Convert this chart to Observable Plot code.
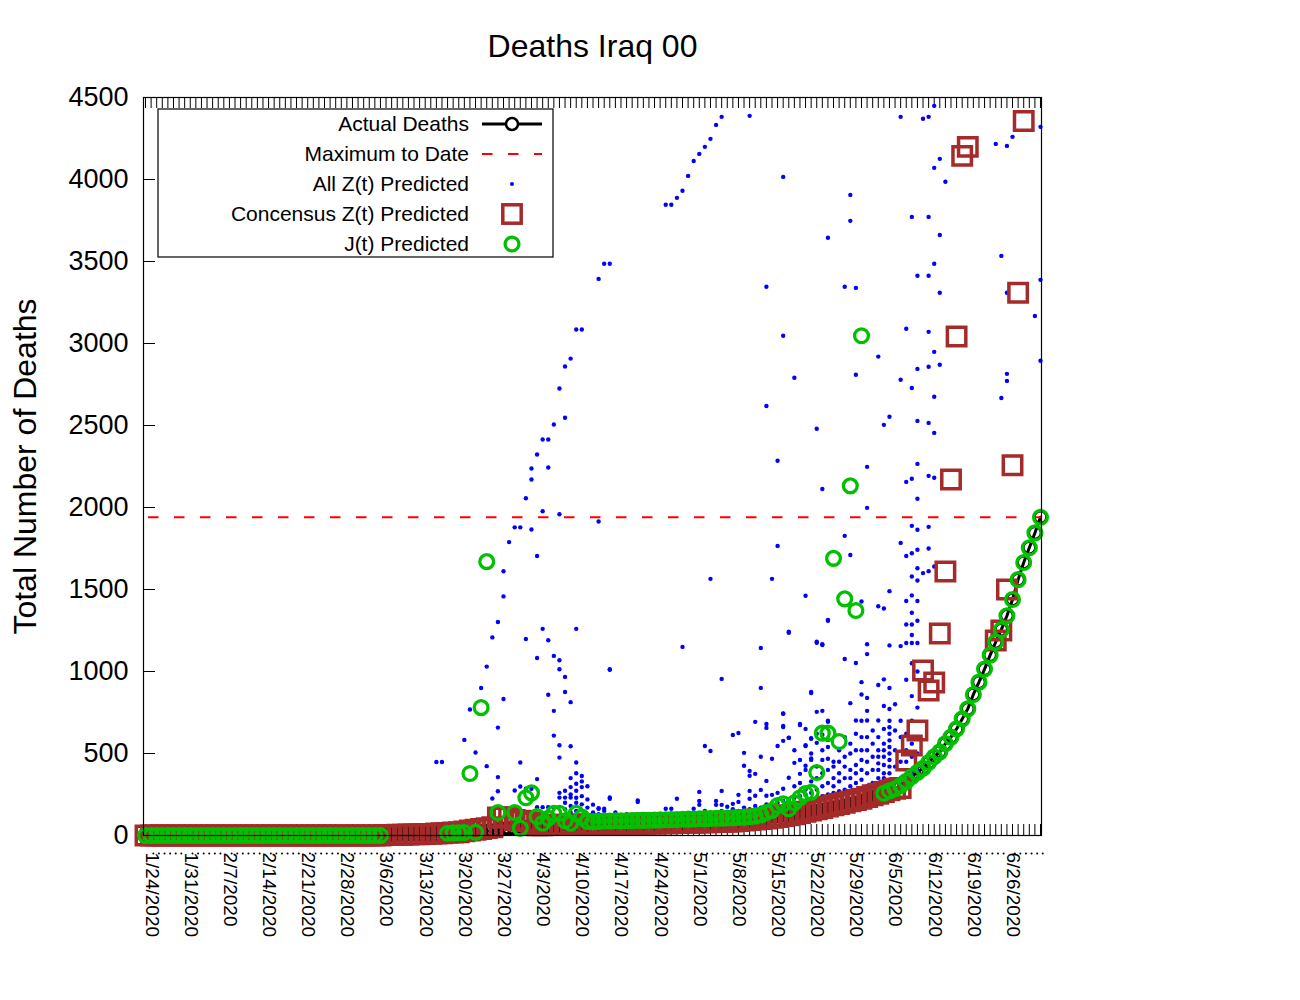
<!DOCTYPE html>
<html><head><meta charset="utf-8">
<script src="https://cdn.jsdelivr.net/npm/d3@7"></script>
<script src="https://cdn.jsdelivr.net/npm/@observablehq/plot@0.6"></script>
<style>body{margin:0;background:#fff;}</style>
</head><body><div id="chart"></div>
<script>
const FONT = "'Liberation Sans', Arial, Helvetica, sans-serif";
const chartTitle = "Deaths Iraq 00";
const yTitle = "Total Number of Deaths";

// x = day index, day 0 = 1/24/2020
const tickDays = [0,7,14,21,28,35,42,49,56,63,70,77,84,91,98,105,112,119,126,133,140,147,154];
const tickLabels = ["1/24/2020","1/31/2020","2/7/2020","2/14/2020","2/21/2020","2/28/2020","3/6/2020","3/13/2020","3/20/2020","3/27/2020","4/3/2020","4/10/2020","4/17/2020","4/24/2020","5/1/2020","5/8/2020","5/15/2020","5/22/2020","5/29/2020","6/5/2020","6/12/2020","6/19/2020","6/26/2020"];
const yTicks = [0,500,1000,1500,2000,2500,3000,3500,4000,4500];

const actualDeaths = [
0,0,0,0,0,0,0,0,0,0,
0,0,0,0,0,0,0,0,0,0,
0,0,0,0,0,0,0,0,0,0,
0,0,0,0,0,0,0,0,0,0,
1,2,2,4,6,7,8,8,9,9,
10,10,11,12,13,14,17,18,20,20,
23,27,29,36,40,42,42,46,50,52,
54,56,61,64,69,70,72,76,78,78,
79,80,81,82,82,82,83,83,85,86,
87,88,90,92,93,94,95,97,98,99,
101,102,102,103,104,104,107,109,110,112,
113,115,117,121,123,127,131,134,140,145,
150,156,163,169,175,182,190,198,210,225,
235,245,256,272,285,305,330,360,385,410,
445,480,510,560,600,650,711,772,860,935,
1015,1100,1180,1255,1340,1439,1560,1665,1755,1845,
1941];

const maxToDate = 1941;

const consensusZ = [
0,0,0,0,0,0,0,0,0,0,
0,0,0,0,0,0,0,0,0,0,
0,0,0,0,0,0,0,0,0,0,
0,0,0,0,0,0,0,0,0,0,
0,0,0,3,4,5,5,6,7,8,
9,10,12,14,16,18,20,25,30,35,
40,45,50,110,112,110,95,90,88,80,
62,63,64,64,65,65,66,66,67,67,
68,68,69,69,70,70,71,71,72,72,
73,73,74,74,75,76,76,77,78,79,
80,81,82,83,84,85,88,91,94,97,
100,104,108,113,118,124,130,137,145,153,
160,168,176,184,192,200,208,216,224,235,
245,255,265,275,285,290,457,549,640,1006,
884,933,1232,1610,2171,3043,4144,4199,null,null,
null,null,1189,1250,1500,2258,3309,4357,null,null,
null];

const jPredicted = [
0,0,0,0,0,0,0,0,0,0,
0,0,0,0,0,0,0,0,0,0,
0,0,0,0,0,0,0,0,0,0,
0,0,0,0,0,0,0,0,0,0,
0,0,0,null,null,null,null,null,null,null,
null,null,null,null,14,16,17,18,378,20,
780,1670,null,140,null,null,140,45,230,260,
115,75,105,135,135,90,75,135,112,85,
84,86,88,88,90,90,90,91,92,92,
93,94,95,96,97,98,99,100,101,102,
103,104,105,106,107,108,110,112,114,118,
125,140,152,183,193,163,200,230,256,264,
384,624,624,1690,573,1443,2132,1372,3047,null,
null,null,258,272,285,305,330,360,385,410,
445,480,510,560,600,650,711,772,860,935,
1015,1100,1180,1255,1340,1439,1560,1665,1755,1845,
1941];

// All Z(t) predictions: [day, deaths]
const allZ = [
[52,448],[53,448],[57,583],[58,768],[59,506],[60,899],[61,1030],[61,423],[62,1208],[62,226],[63,1302],[63,658],[63,356],[63,270],
[64,1458],[64,1611],[64,832],[65,1789],[66,1879],[67,1879],[66,274],[67,445],[67,299],[68,285],[68,2056],[68,1198],
[69,2171],[69,2238],[69,1866],[69,285],[70,2323],[70,1704],[70,1082],[70,344],[70,173],[71,2415],[72,2415],[71,1977],[71,1260],[71,173],
[72,2244],[72,1191],[72,858],[72,173],[73,2506],[73,1095],[73,760],[73,609],[73,173],[74,2726],[74,1959],[74,1069],[74,1014],[74,550],[74,475],[74,231],[74,260],
[75,2860],[75,2547],[75,967],[75,875],[75,231],[75,273],[75,200],[75,160],[76,2908],[76,813],[76,544],[76,231],[76,295],[76,180],[76,140],[76,250],[76,350],
[77,3085],[78,3085],[77,1260],[77,445],[77,273],[77,316],[77,200],[77,150],[77,380],[77,230],[78,363],[78,295],[78,240],[78,190],[78,330],
[79,220],[79,170],[79,300],[80,188],[80,140],[81,166],[81,130],[81,1915],[82,150],[83,1014],[83,232],[84,140],[85,120],[86,130],[88,213],
[81,3394],[82,3486],[83,3486],[93,3846],[94,3846],[95,3888],[96,3931],[97,4022],[98,4113],[99,4156],[100,4199],[101,4248],[102,4333],[103,4382],
[81,163],[82,163],[93,163],[94,163],[98,163],[83,224],[88,205],[95,224],
[113,1766],[101,1565],[112,1565],[118,1462],[122,1309],[115,1236],[120,1175],[121,1162],[96,1150],[110,1143],[83,1010],[103,955],[110,900],[119,869],
[120,754],[114,742],[109,693],[111,680],[111,656],[114,662],[117,674],[122,693],[105,613],[106,625],[115,595],[114,577],[100,546],[101,515],
[113,546],[118,546],[119,590],[120,565],[107,504],[110,480],[112,468],[107,425],[108,394],[109,376],[108,364],[111,333],[116,443],[117,376],
[115,352],[118,425],[119,461],[121,461],[122,468],[99,266],[103,272],[106,248],[108,272],[110,278],[111,242],[112,248],[113,260],[114,285],
[99,211],[99,187],[102,211],[102,187],[103,187],[104,175],[105,193],[106,205],[108,224],[109,242],
[100,150],[101,140],[103,150],[104,140],[105,160],[106,150],[107,170],[108,160],[109,180],[110,170],[111,190],[112,180],[113,200],[114,210],
[115,220],[116,230],[117,240],[118,250],[119,260],[120,280],[121,300],[122,320],[123,300],[124,330],[115,180],[116,190],[117,200],[118,210],
[119,220],[120,230],[121,240],[122,250],[123,260],[124,270],[125,280],[126,300],[127,320],[128,340],[116,300],[117,320],[118,280],[119,330],
[120,350],[121,380],[122,400],[123,420],[124,450],[125,480],[126,400],[127,430],[128,460],
[108,4388],[135,4382],[114,4016],[126,3906],[126,3748],[137,3772],[122,3645],[138,3413],[111,3346],[125,3346],[127,3339],[136,3090],[114,3047],
[131,2920],[116,2791],[127,2809],[135,2779],[138,2845],[137,2729],[111,2619],[133,2553],[132,2504],[138,2528],[120,2480],[113,2285],[129,2248],
[138,2266],[137,2175],[136,2156],[121,2113],[138,2053],[129,1998],[137,1888],[138,1864],[125,1827],[135,1784],
[141,4449],[139,4370],[140,4382],[160,4321],[155,4260],[152,4217],[154,4205],[142,4126],[141,4071],[143,3986],[140,3772],[142,3662],[153,3534],
[141,3486],[140,3413],[142,3309],[154,3309],[160,3388],[159,3168],[140,3071],[141,2949],[140,2858],[142,2870],[160,2895],[154,2815],[154,2772],
[141,2675],[153,2668],[140,2516],[141,2455],[140,2193],[141,2181],[140,1882],[138,1742],
[126,1710],[136,1704],[137,1721],[138,1630],[138,1555],[140,1612],[137,1579],[128,1427],[131,1398],[132,1384],[133,1490],[136,1430],[137,1464],
[138,1430],[137,1358],[136,1287],[137,1287],[138,1309],[137,1223],[136,1174],[137,1174],[138,1174],[122,1315],[115,1243],[120,1181],[121,1166],
[125,1076],[127,1052],[129,1166],[129,1106],[133,1159],[135,1155],[119,875],[128,935],[128,860],[129,839],[129,760],[131,918],[133,899],[132,952],
[126,807],[127,701],[129,701],[131,701],[132,790],[133,771],[121,760],[122,700],[114,744],[114,668],[115,597],[117,680],[118,550],[119,593],
[119,470],[121,615],[122,583],
[133,300],[133,340],[133,380],[133,420],[133,460],[133,500],[133,540],[133,580],[133,620],[133,660],[133,700],
[131,320],[131,400],[131,480],[132,350],[132,430],[132,560],[131,600],[132,650],
[136,350],[136,450],[136,520],[136,620],[137,380],[137,480],[137,560],[137,700],[138,400],[138,500],[138,600],[138,780],[137,850],[136,950],[138,1000],[137,1050],
[140,1750],[141,1640],[139,1600],
[123,350],[123,450],[124,380],[124,520],[125,350],[125,420],[125,600],[126,350],[126,500],[126,560],[127,380],[127,520],[127,620],[128,400],
[128,520],[128,600],[128,700],[129,300],[129,380],[129,450],[129,520],[129,600],[130,320],[130,400],[130,480],[130,560],[130,640],[131,350],
[131,440],[131,520],[132,300],[132,380],[132,480],[132,520],[133,320],[134,330],[134,420],[134,520],[135,350],[135,450],[135,600],[135,700],
[134,800],[134,640],[116,520],[117,460],[118,400],[119,500],[120,420],[121,520],[122,540],[120,620],[118,650]
];

const legendLabels = ["Actual Deaths","Maximum to Date","All Z(t) Predicted","Concensus Z(t) Predicted","J(t) Predicted"];

const COL = {actual:"#000000", max:"#ff0000", allZ:"#0000ff", cons:"#a52a2a", j:"#00c000"};

const actualTable = actualDeaths.map((v,d)=>({day:d, deaths:v}));
const consTable = consensusZ.map((v,d)=>({day:d, deaths:v})).filter(r=>r.deaths!=null);
const jTable = jPredicted.map((v,d)=>({day:d, deaths:v})).filter(r=>r.deaths!=null);
const zTable = allZ.map(([d,v])=>({day:d, deaths:v}));
const allDays = d3.range(0, 161);
const dotDays = allDays.filter(d => d % 7 !== 0);

const W = 1300, H = 1000;
const plot = Plot.plot({
  width: W, height: H,
  marginLeft: 143, marginRight: 259, marginTop: 97, marginBottom: 165,
  style: {fontFamily: FONT, fontSize: "19px", background: "white", color: "black"},
  x: {type: "linear", domain: [-0.36, 160.18], axis: null},
  y: {type: "linear", domain: [0, 4500], axis: null},
  marks: [
    Plot.axisY(yTicks, {tickSize: 0, tickPadding: 15, fontSize: 27, tickFormat: d3.format("d"), label: null}),
    Plot.tickY(yTicks, {y: d => d, stroke: "black", strokeWidth: 1, insetRight: 886}),
    Plot.tickX(allDays, {x: d => d, stroke: "black", strokeWidth: 1, insetTop: 727}),
    Plot.tickX(allDays, {x: d => d, stroke: "black", strokeWidth: 1, insetBottom: 727}),
    Plot.text(tickDays, {x: d => d, text: (d, i) => tickLabels[i], frameAnchor: "bottom", rotate: 90, textAnchor: "start", lineAnchor: "bottom", dy: 17, fontSize: 19, fill: "black"}),
    Plot.dot(dotDays, {x: d => d + 0.4, frameAnchor: "bottom", dy: 18, r: 1, fill: "black", stroke: "none"}),
    Plot.text([yTitle], {frameAnchor: "left", rotate: -90, textAnchor: "middle", lineAnchor: "middle", dx: -118, fontSize: 32, fill: "black"}),
    Plot.text([chartTitle], {frameAnchor: "top", textAnchor: "middle", lineAnchor: "middle", dy: -51, fontSize: 32, fill: "black"}),
    // data
    Plot.line(actualTable, {x: "day", y: "deaths", stroke: COL.actual, strokeWidth: 3}),
    Plot.dot(actualTable, {x: "day", y: "deaths", r: 6, stroke: COL.actual, strokeWidth: 2.5, fill: "none"}),
    Plot.ruleY([maxToDate], {stroke: COL.max, strokeWidth: 2, strokeDasharray: "10.5,15.5", strokeDashoffset: 21}),
    Plot.dot(zTable, {x: "day", y: "deaths", r: 2.2, fill: COL.allZ, stroke: "none"}),
    Plot.dot(consTable, {x: "day", y: "deaths", symbol: "square", r: 10.4, stroke: COL.cons, strokeWidth: 3.5, fill: "none"}),
    Plot.dot(jTable, {x: "day", y: "deaths", r: 6.9, stroke: COL.j, strokeWidth: 3.3, fill: "none"}),
    Plot.frame({stroke: "black", strokeWidth: 1.2})
  ]
});
document.getElementById("chart").appendChild(plot);

// Legend box (gnuplot-style key, inside the plot)
const svg = d3.select(plot);
const lg = svg.append("g").attr("font-family", FONT).attr("font-size", 21);
lg.append("rect").attr("x", 158).attr("y", 109).attr("width", 395).attr("height", 148)
  .attr("fill", "none").attr("stroke", "black").attr("stroke-width", 1.2);
const rowY = i => 124 + 30 * i;
legendLabels.forEach((t, i) => {
  lg.append("text").attr("x", 469).attr("y", rowY(i)).attr("text-anchor", "end")
    .attr("dy", "0.35em").attr("fill", "black").text(t);
});
const sx1 = 482, sx2 = 542, sc = 512;
lg.append("line").attr("x1", sx1).attr("x2", sx2).attr("y1", rowY(0)).attr("y2", rowY(0)).attr("stroke", "black").attr("stroke-width", 3);
lg.append("circle").attr("cx", sc).attr("cy", rowY(0)).attr("r", 6).attr("fill", "white").attr("stroke", "black").attr("stroke-width", 2.5);
lg.append("line").attr("x1", sx1).attr("x2", sx2).attr("y1", rowY(1)).attr("y2", rowY(1)).attr("stroke", COL.max).attr("stroke-width", 2).attr("stroke-dasharray", "10.5,15.5");
lg.append("circle").attr("cx", sc).attr("cy", rowY(2)).attr("r", 2).attr("fill", COL.allZ);
lg.append("rect").attr("x", sc - 9.2).attr("y", rowY(3) - 9.2).attr("width", 18.4).attr("height", 18.4).attr("fill", "none").attr("stroke", COL.cons).attr("stroke-width", 3.5);
lg.append("circle").attr("cx", sc).attr("cy", rowY(4)).attr("r", 6.9).attr("fill", "none").attr("stroke", COL.j).attr("stroke-width", 3.3);
</script>
</body></html>
